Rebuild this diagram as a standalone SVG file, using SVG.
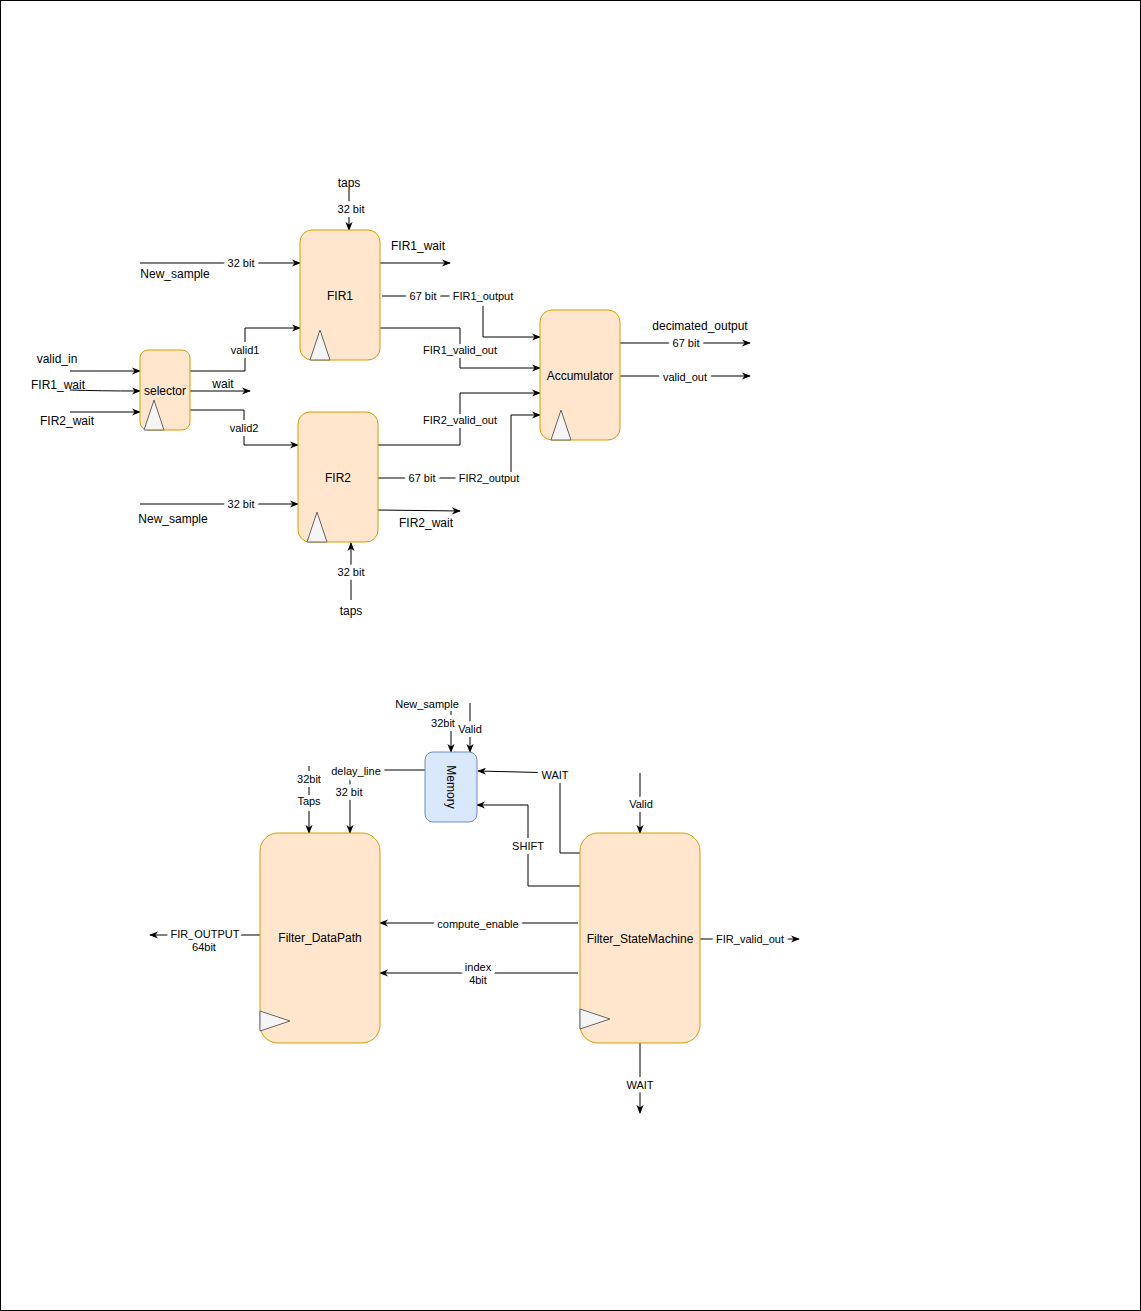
<svg xmlns="http://www.w3.org/2000/svg" width="1141" height="1311" viewBox="0 0 1141 1311">
<defs>
<marker id="arr" viewBox="0 0 10 10" refX="9" refY="5" markerWidth="9" markerHeight="9" markerUnits="userSpaceOnUse" orient="auto">
<path d="M0,1 L10,5 L0,9 L3,5 Z" fill="#000"/>
</marker>
<style>
.node{fill:#ffe6cc;stroke:#d79b00;stroke-width:1}
.mem{fill:#dae8fc;stroke:#6c8ebf;stroke-width:1}
.clk{fill:#f5f5f5;stroke:#666666;stroke-width:1}
.e{fill:none;stroke:#000;stroke-width:1}
.ea{fill:none;stroke:#000;stroke-width:1;marker-end:url(#arr)}
text{font-family:"Liberation Sans",Arial,sans-serif;fill:#000;text-anchor:middle;dominant-baseline:central}
.t12{font-size:12px}
.el{font-size:11px;stroke:#fff;stroke-width:8;stroke-linejoin:round;paint-order:stroke}
</style>
</defs>
<rect x="0.5" y="0.5" width="1140" height="1310" fill="#fff" stroke="#000"/>

<g id="connectors">
<path class="ea" d="M349,190 L349,230"/>
<path class="ea" d="M140,263 L300,263"/>
<path class="ea" d="M380,263 L450,263"/>
<path class="ea" d="M382,296 L483,296 L483,337 L540,337"/>
<path class="ea" d="M380,328 L460,328 L460,368 L540,368"/>
<path class="ea" d="M70,371 L140,371"/>
<path class="ea" d="M70,390 Q100,391 140,391"/>
<path class="ea" d="M70,412 L140,412"/>
<path class="ea" d="M190,371 L245,371 L245,328 L300,328"/>
<path class="ea" d="M190,391 L250,391"/>
<path class="ea" d="M190,410 L244,410 L244,445 L298,445"/>
<path class="ea" d="M378,445 L460,445 L460,393 L540,393"/>
<path class="ea" d="M378,478 L511,478 L511,415 L540,415"/>
<path class="ea" d="M140,504 L298,504"/>
<path class="ea" d="M378,510 L460,511"/>
<path class="ea" d="M351,600 L351,543"/>
<path class="ea" d="M620,343 L750,343"/>
<path class="ea" d="M620,376 L750,376"/>
<text class="el" x="351" y="209">32 bit</text>
<text class="el" x="241" y="263">32 bit</text>
<text class="el" x="423" y="296">67 bit</text>
<text class="el" x="483" y="296">FIR1_output</text>
<text class="el" x="460" y="350">FIR1_valid_out</text>
<text class="el" x="245" y="350">valid1</text>
<text class="el" x="244" y="428">valid2</text>
<text class="el" x="460" y="420">FIR2_valid_out</text>
<text class="el" x="422" y="478">67 bit</text>
<text class="el" x="489" y="478">FIR2_output</text>
<text class="el" x="241" y="504">32 bit</text>
<text class="el" x="351" y="572">32 bit</text>
<text class="el" x="686" y="343">67 bit</text>
<text class="el" x="685" y="377">valid_out</text>
<path class="ea" d="M451,711 L451,752"/>
<path class="ea" d="M470,703 L470,752"/>
<path class="ea" d="M425,770 L350,770 L350,833"/>
<path class="ea" d="M309,766 L309,833"/>
<path class="ea" d="M580,853 L560,853 L560,773 L478,771"/>
<path class="ea" d="M580,886 L528,886 L528,805 L477,805"/>
<path class="ea" d="M640,773 L640,833"/>
<path class="ea" d="M700,939 L799,939"/>
<path class="ea" d="M640,1043 L640,1113"/>
<path class="ea" d="M578,923 L380,923"/>
<path class="ea" d="M578,973 L380,973"/>
<path class="ea" d="M260,935 L150,935"/>
<text class="el" x="443" y="723">32bit</text>
<text class="el" x="470" y="729">Valid</text>
<text class="el" x="356" y="771">delay_line</text>
<text class="el" x="349" y="792">32 bit</text>
<text class="el" x="309" y="779">32bit</text>
<text class="el" x="309" y="801">Taps</text>
<text class="el" x="555" y="775">WAIT</text>
<text class="el" x="528" y="846">SHIFT</text>
<text class="el" x="641" y="804">Valid</text>
<text class="el" x="750" y="939">FIR_valid_out</text>
<text class="el" x="640" y="1085">WAIT</text>
<text class="el" x="478" y="924">compute_enable</text>
<text class="el" x="478" y="967">index</text>
<text class="el" x="478" y="980">4bit</text>
<text class="el" x="205" y="934">FIR_OUTPUT</text>
<text class="el" x="204" y="947">64bit</text>
</g>

<g id="labels">
<text class="t12" x="349" y="183">taps</text>
<text class="t12" x="175" y="274">New_sample</text>
<text class="t12" x="418" y="246">FIR1_wait</text>
<text class="t12" x="57" y="359">valid_in</text>
<text class="t12" x="58" y="385">FIR1_wait</text>
<text class="t12" x="67" y="421">FIR2_wait</text>
<text class="t12" x="223" y="384">wait</text>
<text class="t12" x="700" y="326">decimated_output</text>
<text class="t12" x="173" y="519">New_sample</text>
<text class="t12" x="426" y="523">FIR2_wait</text>
<text class="t12" x="351" y="611">taps</text>
<text style="font-size:11px" x="427" y="704">New_sample</text>
</g>

<g id="FIR1">
<rect class="node" x="300" y="230" width="80" height="130" rx="12"/>
<text class="t12" x="340" y="296">FIR1</text>
<polygon class="clk" points="310,360 320,330 330,360"/>
</g>
<g id="selector">
<rect class="node" x="140" y="350" width="50" height="80" rx="8"/>
<text class="t12" x="165" y="391">selector</text>
<polygon class="clk" points="144,430 154,400 164,430"/>
</g>
<g id="FIR2">
<rect class="node" x="298" y="412" width="80" height="130" rx="12"/>
<text class="t12" x="338" y="478">FIR2</text>
<polygon class="clk" points="307,542 317,512 327,542"/>
</g>
<g id="Accumulator">
<rect class="node" x="540" y="310" width="80" height="130" rx="12"/>
<text class="t12" x="580" y="376">Accumulator</text>
<polygon class="clk" points="551,440 561,410 571,440"/>
</g>
<g id="Memory">
<rect class="mem" x="425" y="752" width="52" height="70" rx="8"/>
<text class="t12" x="451" y="787" transform="rotate(90 451 787)">Memory</text>
</g>
<g id="Filter_DataPath">
<rect class="node" x="260" y="833" width="120" height="210" rx="18"/>
<text class="t12" x="320" y="938">Filter_DataPath</text>
<polygon class="clk" points="260,1011 290,1021 260,1031"/>
</g>
<g id="Filter_StateMachine">
<rect class="node" x="580" y="833" width="120" height="210" rx="18"/>
<text class="t12" x="640" y="939">Filter_StateMachine</text>
<polygon class="clk" points="580,1009 610,1019 580,1029"/>
</g>
</svg>
